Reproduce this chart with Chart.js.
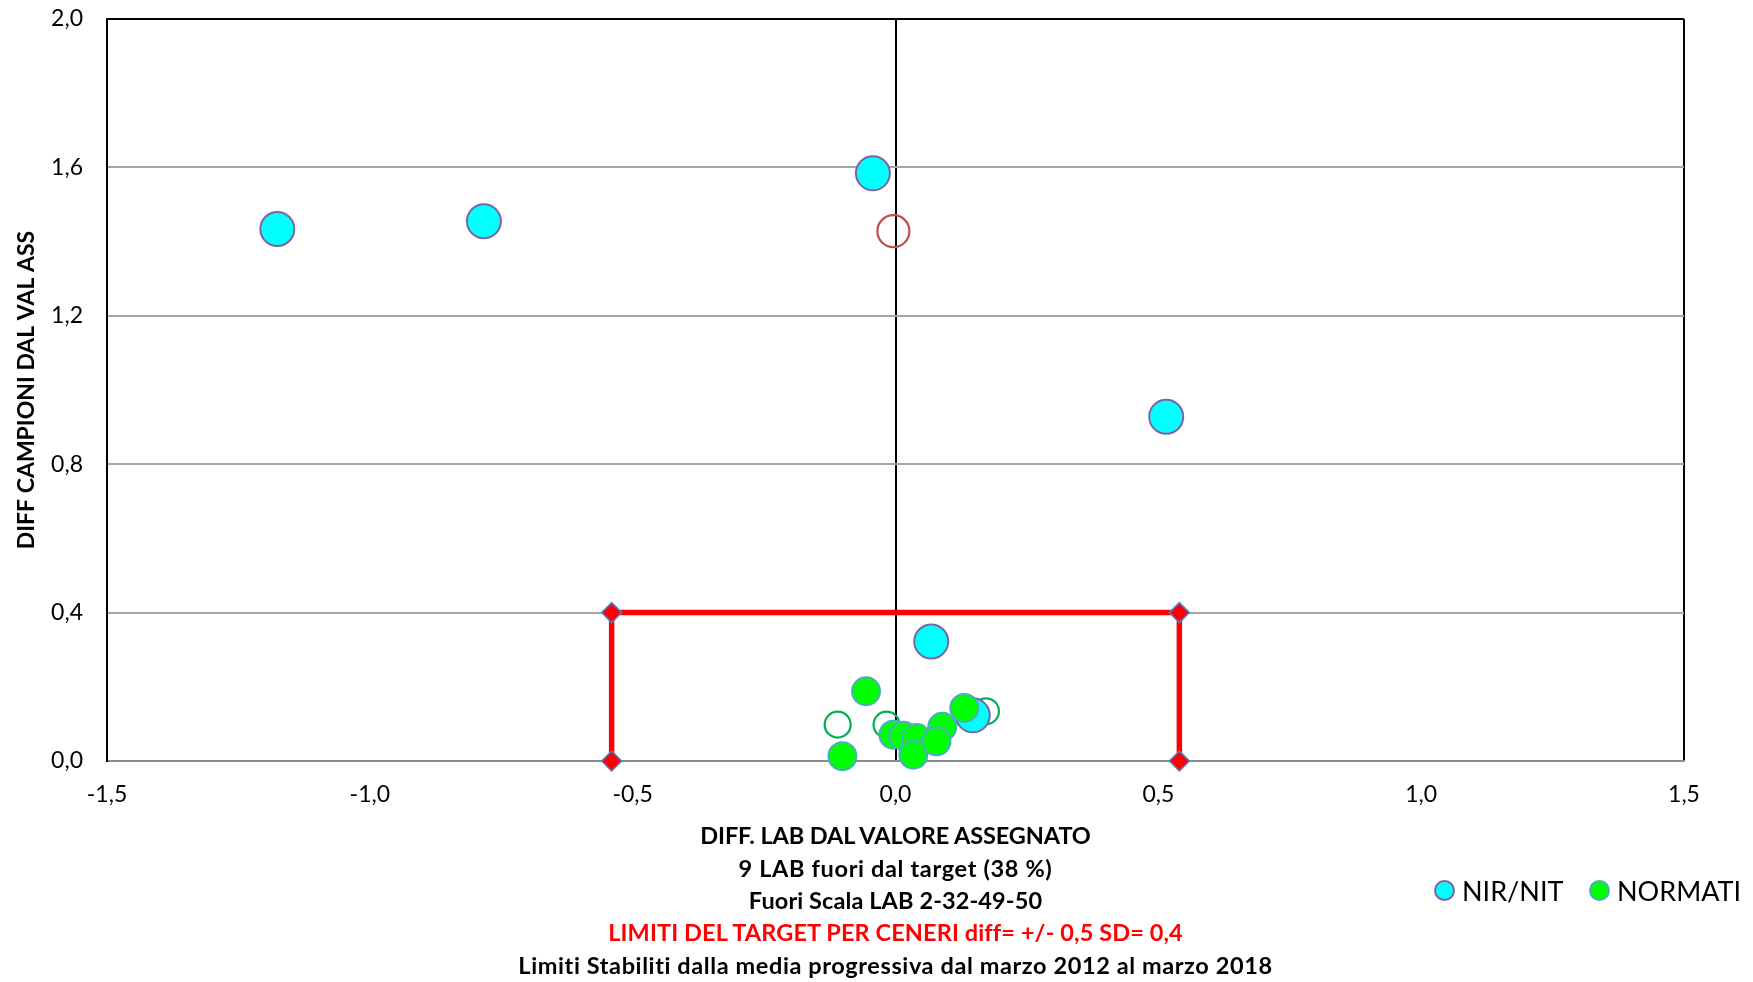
<!DOCTYPE html>
<html>
<head>
<meta charset="utf-8">
<script src="https://cdn.jsdelivr.net/npm/chart.js@4/dist/chart.umd.min.js"></script>
<style>
  html, body { margin:0; padding:0; background:#fff; }
  #wrap { position:relative; width:1753px; height:982px; overflow:hidden; }
  canvas { position:absolute; left:0; top:0; }
  .line { position:absolute; left:0; width:1791px; text-align:center; font-family:Lato, sans-serif; font-weight:bold; font-size:23.5px; line-height:28px; color:#000; white-space:nowrap; }
  .red { color:#FF0000; }
  .leg { position:absolute; font-family:Lato, sans-serif; font-size:27px; color:#000; white-space:nowrap; display:flex; align-items:center; }
  .dot { display:inline-block; width:17px; height:17px; border-radius:50%; margin-right:7px; }
</style>
</head>
<body>
<div id="wrap">
  <canvas id="c" width="1753" height="982"></canvas>
  <div class="line" style="top:821px; letter-spacing:-0.1px">DIFF. LAB DAL VALORE ASSEGNATO</div>
  <div class="line" style="top:853.6px; letter-spacing:0.65px">9 LAB fuori dal target (38 %)</div>
  <div class="line" style="top:886px; letter-spacing:0.1px">Fuori Scala LAB 2-32-49-50</div>
  <div class="line red" style="top:918.4px; letter-spacing:0.1px">LIMITI DEL TARGET PER CENERI diff= +/- 0,5 SD= 0,4</div>
  <div class="line" style="top:951px; letter-spacing:0.6px">Limiti Stabiliti dalla media progressiva dal marzo 2012 al marzo 2018</div>
  <div class="leg" style="left:1434px; top:874px"><span class="dot" style="background:#00FFFF; border:2px solid #8064A2"></span>NIR/NIT</div>
  <div class="leg" style="left:1589px; top:874px"><span class="dot" style="background:#00FF00; border:2px solid #4BACC6"></span>NORMATI</div>
</div>
<script>
// ---- data ----
const nirX = [-1.176, -0.783, -0.043, 0.515, 0.068, 0.147];
const nirY = [1.434, 1.455, 1.584, 0.928, 0.322, 0.123];

const normatiX = [-0.056, -0.101, -0.004, 0.015, 0.040, 0.034, 0.089, 0.078, 0.131];
const normatiY = [0.188, 0.013, 0.071, 0.068, 0.062, 0.017, 0.092, 0.053, 0.143];

const altriX = [-0.110, -0.017, 0.172];
const altriY = [0.098, 0.098, 0.134];

const mediaX = [-0.004];
const mediaY = [1.428];

const targetX = [-0.54, -0.54, 0.54, 0.54];
const targetY = [0, 0.4, 0.4, 0];

const xTicks = [-1.5, -1.0, -0.5, 0.0, 0.5, 1.0, 1.5];
const yTicks = [0.0, 0.4, 0.8, 1.2, 1.6, 2.0];

const pts = (xs, ys) => xs.map((x, i) => ({ x: x, y: ys[i] }));
const fmt = v => Number(v).toFixed(1).replace('.', ',');

new Chart(document.getElementById('c'), {
  type: 'scatter',
  data: {
    datasets: [
      { label: 'NORMATI', data: pts(normatiX, normatiY), order: 1, clip: false,
        pointRadius: 14, pointHoverRadius: 14, backgroundColor: '#00FF00', borderColor: '#4BACC6', borderWidth: 2 },
      { label: 'NIR/NIT', data: pts(nirX, nirY), order: 2, clip: false,
        pointRadius: 17, pointHoverRadius: 17, backgroundColor: '#00FFFF', borderColor: '#8064A2', borderWidth: 2 },
      { label: 'media', data: pts(mediaX, mediaY), order: 3, clip: false,
        pointRadius: 16, pointHoverRadius: 16, backgroundColor: 'rgba(0,0,0,0)', borderColor: '#C0504D', borderWidth: 2.2 },
      { label: 'altri', data: pts(altriX, altriY), order: 4, clip: false,
        pointRadius: 13, pointHoverRadius: 13, backgroundColor: 'rgba(0,0,0,0)', borderColor: '#00B050', borderWidth: 2.2 },
      { label: 'target', data: pts(targetX, targetY), order: 5, showLine: true, clip: false,
        borderColor: '#FF0000', borderWidth: 5.5, pointStyle: 'rectRot',
        pointRadius: 10, pointHoverRadius: 10, pointBackgroundColor: '#FF0000', pointBorderColor: '#4F81BD', pointBorderWidth: 1.5 }
    ]
  },
  options: {
    responsive: false,
    devicePixelRatio: 1,
    animation: false,
    layout: { padding: { left: 0, top: 0, right: 69, bottom: 161 } },
    plugins: { legend: { display: false }, tooltip: { enabled: false } },
    scales: {
      x: {
        type: 'linear', min: -1.5, max: 1.5,
        afterBuildTicks: s => { s.ticks = xTicks.map(v => ({ value: v })); },
        afterFit: s => { s.height = 60; },
        ticks: { callback: fmt, font: { family: 'Lato', size: 23 }, color: '#000', padding: 20, maxRotation: 0 },
        grid: { drawTicks: false, lineWidth: 2,
          color: c => (c.tick && (c.tick.value === 0 || c.tick.value === 1.5 || c.tick.value === -1.5)) ? '#000' : 'rgba(0,0,0,0)' },
        border: { display: true, color: '#8C8C8C', width: 2 }
      },
      y: {
        type: 'linear', min: 0, max: 2,
        afterBuildTicks: s => { s.ticks = yTicks.map(v => ({ value: v })); },
        afterFit: s => { s.width = 107; s.paddingTop = 19; s.paddingBottom = 0; },
        ticks: { callback: fmt, font: { family: 'Lato', size: 23 }, color: '#000', padding: 24 },
        grid: { drawTicks: false, lineWidth: 2,
          color: c => (c.tick && c.tick.value === 2) ? '#000' : '#A6A6A6' },
        border: { display: true, color: '#000', width: 2 },
        title: { display: true, text: 'DIFF CAMPIONI DAL VAL ASS', color: '#000',
          font: { family: 'Lato', size: 23, weight: 'bold' }, padding: { top: 13, bottom: 0 } }
      }
    }
  }
});
</script>
</body>
</html>
